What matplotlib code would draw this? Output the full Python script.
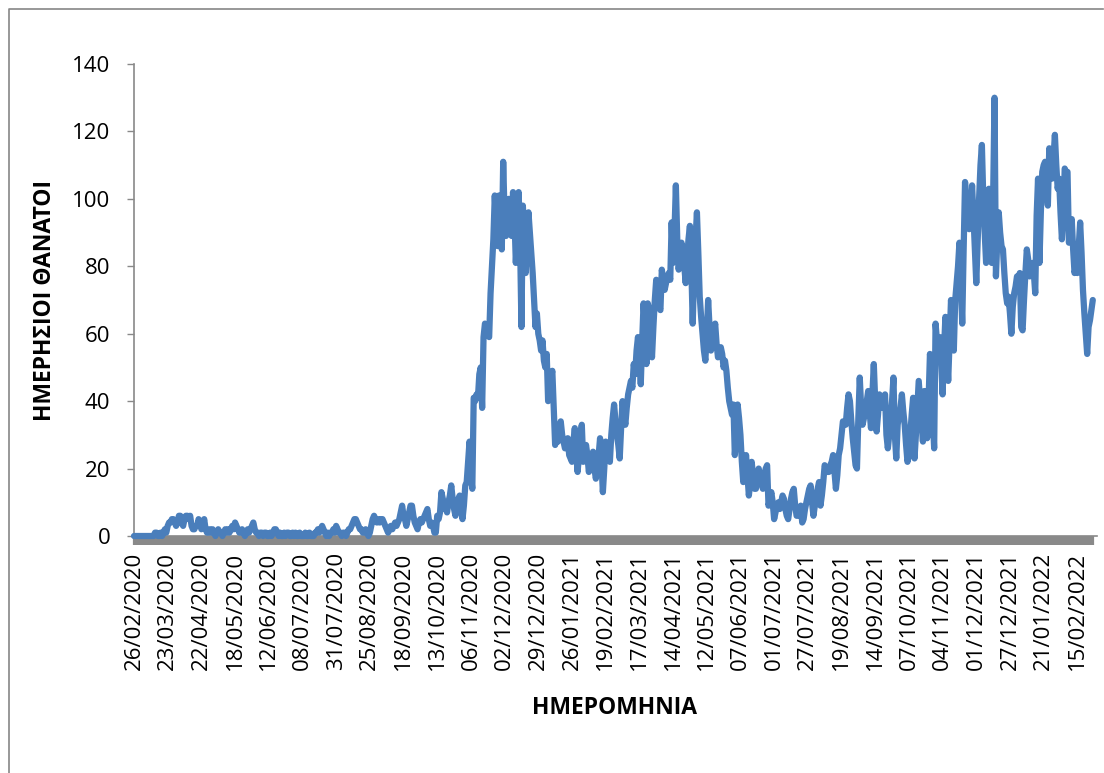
import matplotlib
matplotlib.use("Agg")
import matplotlib.pyplot as plt
from matplotlib.lines import Line2D

plt.rcParams['font.family'] = ['Open Sans', 'DejaVu Sans']

# daily deaths, one row per 24 days (one tick label per row)
daily_deaths = [
    0, 0, 0, 0, 0, 0, 0, 0, 0, 0, 0, 0, 0, 0, 0, 1, 1, 0, 0, 1, 0, 1, 2, 1,
    3, 4, 4, 5, 5, 4, 3, 4, 6, 6, 4, 3, 5, 6, 6, 5, 6, 3, 2, 2, 3, 3, 5, 4,
    2, 3, 5, 2, 1, 1, 2, 1, 2, 1, 0, 1, 2, 1, 1, 0, 1, 2, 1, 2, 1, 2, 3, 2,
    4, 3, 2, 1, 1, 2, 1, 0, 1, 2, 1, 2, 3, 4, 2, 1, 1, 0, 1, 1, 0, 1, 1, 0,
    0, 1, 0, 1, 2, 2, 1, 0, 1, 0, 0, 1, 0, 1, 1, 0, 0, 1, 0, 1, 0, 0, 1, 0,
    0, 0, 1, 0, 0, 1, 0, 0, 0, 1, 1, 2, 1, 2, 3, 2, 1, 0, 1, 0, 1, 1, 2, 1,
    3, 2, 1, 1, 0, 1, 1, 0, 1, 2, 2, 3, 4, 5, 5, 4, 3, 2, 2, 1, 1, 2, 1, 0,
    1, 3, 5, 6, 5, 4, 5, 4, 5, 5, 4, 3, 2, 1, 2, 3, 2, 3, 4, 3, 4, 5, 7, 9,
    6, 5, 3, 5, 7, 9, 9, 6, 4, 3, 2, 4, 5, 4, 5, 6, 7, 8, 5, 3, 4, 3, 1, 1,
    6, 5, 7, 13, 11, 8, 9, 7, 10, 12, 15, 11, 8, 6, 9, 11, 12, 8, 5, 9, 15, 16, 22, 28,
    18, 14, 41, 40, 42, 41, 48, 50, 38, 59, 63, 62, 60, 59, 72, 80, 88, 101, 92, 86, 101, 95, 85, 111,
    95, 89, 92, 100, 93, 89, 102, 95, 81, 90, 102, 88, 62, 98, 90, 78, 88, 96, 90, 84, 78, 70, 62, 66,
    60, 58, 55, 58, 52, 50, 54, 40, 44, 47, 49, 38, 27, 30, 28, 32, 34, 30, 28, 26, 27, 29, 24, 23,
    22, 28, 32, 25, 19, 24, 30, 33, 22, 24, 27, 24, 19, 21, 23, 25, 20, 17, 20, 24, 29, 22, 13, 20,
    28, 26, 27, 22, 30, 35, 39, 34, 30, 27, 23, 32, 40, 36, 33, 38, 42, 44, 46, 44, 51, 48, 55, 59,
    55, 45, 58, 69, 62, 51, 69, 67, 60, 53, 62, 70, 76, 72, 68, 67, 79, 76, 73, 75, 77, 78, 76, 93,
    81, 90, 104, 88, 79, 84, 87, 85, 80, 75, 82, 88, 92, 80, 63, 78, 88, 96, 84, 71, 65, 60, 55, 52,
    60, 70, 62, 55, 58, 60, 63, 57, 53, 55, 56, 54, 50, 52, 49, 44, 40, 38, 36, 39, 24, 30, 39, 35,
    30, 22, 16, 20, 24, 18, 12, 16, 22, 18, 14, 14, 17, 20, 18, 16, 14, 18, 20, 21, 9, 11, 13, 10,
    5, 7, 9, 10, 8, 10, 12, 11, 8, 6, 5, 8, 11, 13, 14, 9, 6, 6, 8, 9, 4, 5, 8, 10,
    12, 14, 15, 10, 6, 9, 12, 14, 16, 9, 12, 16, 21, 20, 19, 19, 21, 22, 24, 19, 14, 18, 24, 26,
    30, 34, 33, 33, 38, 42, 40, 34, 29, 25, 21, 20, 35, 47, 38, 33, 35, 38, 40, 43, 37, 32, 42, 51,
    40, 31, 36, 42, 40, 38, 40, 42, 30, 26, 30, 35, 40, 47, 30, 23, 33, 36, 38, 42, 37, 33, 27, 22,
    24, 30, 36, 41, 23, 30, 38, 46, 40, 34, 28, 43, 36, 29, 40, 54, 50, 35, 26, 63, 58, 55, 59, 52,
    42, 55, 65, 55, 46, 58, 70, 62, 55, 70, 75, 80, 87, 75, 63, 85, 105, 98, 92, 91, 96, 104, 95, 85,
    75, 88, 100, 110, 116, 100, 90, 81, 92, 103, 90, 81, 100, 130, 77, 88, 96, 90, 86, 85, 78, 72, 69, 71,
    66, 60, 68, 72, 74, 77, 76, 78, 62, 61, 70, 78, 85, 82, 77, 79, 81, 78, 72, 95, 106, 81, 96, 108,
    110, 111, 104, 98, 115, 110, 106, 112, 119, 110, 103, 106, 96, 88, 95, 109, 108, 108, 87, 90, 94, 85, 78, 80,
    78, 86, 93, 84, 73, 66, 60, 54, 62, 64, 67, 70,
]

date_labels = [
    '26/02/2020', '23/03/2020', '22/04/2020', '18/05/2020', '12/06/2020',
    '08/07/2020', '31/07/2020', '25/08/2020', '18/09/2020', '13/10/2020',
    '06/11/2020', '02/12/2020', '29/12/2020', '26/01/2021', '19/02/2021',
    '17/03/2021', '14/04/2021', '12/05/2021', '07/06/2021', '01/07/2021',
    '27/07/2021', '19/08/2021', '14/09/2021', '07/10/2021', '04/11/2021',
    '01/12/2021', '27/12/2021', '21/01/2022', '15/02/2022',
]
label_step = 24

W, H = 1104, 773
fig = plt.figure(figsize=(W / 100, H / 100), dpi=100)
ax = fig.add_axes([134 / W, (H - 536) / H, (1097 - 134) / W, (536 - 64) / H])

days = range(len(daily_deaths))
ax.plot(days, daily_deaths, color='#4a7ebb', lw=4.5,
        solid_joinstyle='round', solid_capstyle='round', clip_on=False,
        zorder=3)

axis_grey = '#898989'
ax.set_xlim(0, 686)
ax.set_ylim(0, 140)
ax.set_yticks(range(0, 141, 20))
ax.set_xticks([i * label_step for i in range(len(date_labels))])
ax.set_xticklabels(date_labels, rotation=90)
ax.set_xticks(list(days), minor=True)

for side in ('top', 'right'):
    ax.spines[side].set_visible(False)
for side in ('left', 'bottom'):
    ax.spines[side].set_color(axis_grey)
    ax.spines[side].set_linewidth(1.2)

ax.tick_params(axis='y', direction='out', length=5, width=1, color=axis_grey,
               labelsize=16, pad=12)
# one tick per day: they merge into a solid grey band under the axis
ax.tick_params(axis='x', which='both', direction='out', length=6.5, width=1.6,
               color=axis_grey, labelsize=16, pad=5)

fig.text(615 / W, 1 - 708 / H, 'ΗΜΕΡΟΜΗΝΙΑ', ha='center', va='center',
         fontsize=16.5, fontweight='bold')
fig.text(45 / W, 1 - 300 / H, 'ΗΜΕΡΗΣΙΟΙ ΘΑΝΑΤΟΙ', ha='center', va='center',
         rotation=90, fontsize=16.5, fontweight='bold')

# outer chart frame
frame_x = [8.5 / W, 8.5 / W, 1103 / W]
frame_y = [0.0, 1 - 8.5 / H, 1 - 8.5 / H]
fig.add_artist(Line2D(frame_x, frame_y, color='#868686', lw=1.2,
                      transform=fig.transFigure))

fig.savefig('out.png', dpi=100)
